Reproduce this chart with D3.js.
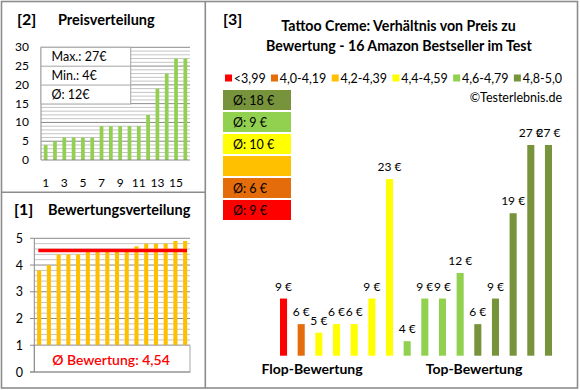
<!DOCTYPE html>
<html><head><meta charset="utf-8">
<script src="https://cdn.jsdelivr.net/npm/d3@7"></script>
<style>
body{margin:0;background:#fff;}
svg{display:block;font-family:Lato,"Open Sans",sans-serif;}
</style></head>
<body><svg id="c" width="580" height="390"></svg>
<script>
// ---------- data ----------
const productIdx = d3.range(1, 17);
const prices = [4,5,6,6,6,6,9,9,9,9,9,12,19,23,27,27];
const priceTickLabels = [0,5,10,15,20,25,30];
const priceXLabels = [1,3,5,7,9,11,13,15];
const priceStats = ["Max.: 27€","Min.: 4€","Ø: 12€"];

const ratings = [3.8,4.0,4.4,4.4,4.4,4.5,4.5,4.6,4.6,4.6,4.7,4.8,4.8,4.8,4.9,4.9];
const ratingTickLabels = [0,1,2,3,4,5];
const ratingAvg = 4.54;
const ratingAvgLabel = "Ø Bewertung: 4,54";

const sortedPrices = [9,6,5,6,6,9,23,4,9,9,12,6,9,19,27,27];
const sortedClass  = [0,1,3,3,3,3,3,4,4,4,4,5,5,5,5,5];
const classLabels = ["<3,99","4,0-4,19","4,2-4,39","4,4-4,59","4,6-4,79","4,8-5,0"];
const classColors = ["#FF0000","#E46C0A","#FFC000","#FFFF00","#92D050","#77933C"];
const classAvgLabels = ["Ø: 9 €","Ø: 6 €","","Ø: 10 €","Ø: 9 €","Ø: 18 €"];

const svg = d3.select("#c");
const GRID_MINOR = "#c4c4c4", GRID_MAJOR = "#8a8a8a", FRAME = "#8c8c8c";

// ---------- frame ----------
svg.append("rect").attr("x",1.5).attr("y",1.5).attr("width",576).attr("height",386.5)
  .attr("fill","none").attr("stroke",FRAME).attr("stroke-width",1.6);
svg.append("line").attr("x1",205.3).attr("x2",205.3).attr("y1",1.5).attr("y2",388)
  .attr("stroke",FRAME).attr("stroke-width",1.6);
svg.append("line").attr("x1",1.5).attr("x2",205.3).attr("y1",192.3).attr("y2",192.3)
  .attr("stroke",FRAME).attr("stroke-width",1.6);

// ---------- panel [2] Preisverteilung ----------
const p2 = svg.append("g");
p2.append("text").attr("x",17).attr("y",25).attr("font-size",16).attr("font-weight","bold").text("[2]");
p2.append("text").attr("x",58).attr("y",25).attr("font-size",14.5).attr("font-weight","bold").text("Preisverteilung");

const x2 = d3.scaleBand().domain(productIdx).range([41,190]).paddingInner(0.6).paddingOuter(0.3);
const y2 = d3.scaleLinear().domain([0,30]).range([160,47.3]);

p2.selectAll("line.g").data(d3.range(1,31)).join("line")
  .attr("x1",41).attr("x2",190).attr("y1",d=>y2(d)).attr("y2",d=>y2(d))
  .attr("stroke",d=>d%5===0?GRID_MAJOR:GRID_MINOR).attr("stroke-width",1);

p2.selectAll("rect.b").data(prices).join("rect")
  .attr("x",(d,i)=>x2(productIdx[i])).attr("width",x2.bandwidth())
  .attr("y",d=>y2(d)).attr("height",d=>y2(0)-y2(d)).attr("fill","#92D050");

p2.append("line").attr("x1",41).attr("x2",190).attr("y1",y2(0)).attr("y2",y2(0)).attr("stroke",GRID_MAJOR);
p2.append("line").attr("x1",41).attr("x2",41).attr("y1",y2(0)).attr("y2",y2(30)).attr("stroke",GRID_MAJOR);

p2.selectAll("text.yl").data(priceTickLabels).join("text")
  .attr("x",29).attr("y",d=>y2(d)+4).attr("text-anchor","end").attr("font-size",12).text(d=>d);
p2.selectAll("text.xl").data(priceXLabels).join("text")
  .attr("x",d=>x2(d)+x2.bandwidth()/2).attr("y",187).attr("text-anchor","middle").attr("font-size",12).text(d=>d);

// stats box
const statTop = y2(30);
const statG = p2.append("g");
statG.append("rect").attr("x",41).attr("y",statTop).attr("width",89.7).attr("height",56.7)
  .attr("fill","#fff").attr("stroke","#a6a6a6");
statG.selectAll("line").data([1,2]).join("line")
  .attr("x1",41).attr("x2",130.7).attr("y1",d=>statTop+d*56.7/3).attr("y2",d=>statTop+d*56.7/3)
  .attr("stroke","#a6a6a6");
statG.selectAll("text").data(priceStats).join("text")
  .attr("x",51.5).attr("y",(d,i)=>statTop+i*56.7/3+14).attr("font-size",12.5).text(d=>d);

// ---------- panel [1] Bewertungsverteilung ----------
const p1 = svg.append("g");
p1.append("text").attr("x",14).attr("y",215).attr("font-size",16).attr("font-weight","bold").text("[1]");
p1.append("text").attr("x",48).attr("y",215).attr("font-size",14.5).attr("font-weight","bold").text("Bewertungsverteilung");

const x1 = d3.scaleBand().domain(productIdx).range([34.3,190]).paddingInner(0.58).paddingOuter(0.29);
const y1 = d3.scaleLinear().domain([0,5]).range([372,238.3]);

p1.selectAll("line.g").data(d3.range(1,26).map(d=>d/5)).join("line")
  .attr("x1",34.3).attr("x2",190).attr("y1",d=>y1(d)).attr("y2",d=>y1(d))
  .attr("stroke",d=>Math.abs(d-Math.round(d))<1e-6?GRID_MAJOR:GRID_MINOR).attr("stroke-width",1);

p1.selectAll("rect.b").data(ratings).join("rect")
  .attr("x",(d,i)=>x1(productIdx[i])).attr("width",x1.bandwidth())
  .attr("y",d=>y1(d)).attr("height",d=>y1(0)-y1(d)).attr("fill","#FFC000");

p1.append("rect").attr("x",34.3).attr("y",y1(1)).attr("width",155.7).attr("height",y1(0)-y1(1))
  .attr("fill","#fff").attr("stroke","#a6a6a6");
p1.append("text").attr("x",111).attr("y",365).attr("text-anchor","middle").attr("font-size",14)
  .attr("font-weight",600).attr("fill","#FF0000").text(ratingAvgLabel);

p1.append("line").attr("x1",34.3).attr("x2",34.3).attr("y1",y1(0)).attr("y2",y1(5)).attr("stroke",GRID_MAJOR);
p1.append("line").attr("x1",30).attr("x2",190).attr("y1",y1(0)).attr("y2",y1(0)).attr("stroke",GRID_MAJOR);
p1.selectAll("line.t").data(ratingTickLabels).join("line")
  .attr("x1",30).attr("x2",34.3).attr("y1",d=>y1(d)).attr("y2",d=>y1(d)).attr("stroke",GRID_MAJOR);
p1.selectAll("text.yl").data(ratingTickLabels).join("text")
  .attr("x",23).attr("y",d=>y1(d)+4.5).attr("text-anchor","end").attr("font-size",12.5).text(d=>d);

p1.append("line").attr("x1",38.3).attr("x2",187).attr("y1",y1(ratingAvg)).attr("y2",y1(ratingAvg))
  .attr("stroke","#FF0000").attr("stroke-width",3.5);

// ---------- panel [3] ----------
const p3 = svg.append("g");
p3.append("text").attr("x",223).attr("y",25).attr("font-size",16).attr("font-weight","bold").text("[3]");
p3.append("text").attr("x",398.5).attr("y",31).attr("text-anchor","middle").attr("font-size",14.2)
  .attr("font-weight","bold").text("Tattoo Creme: Verhältnis von Preis zu");
p3.append("text").attr("x",399).attr("y",51).attr("text-anchor","middle").attr("font-size",14.2)
  .attr("font-weight","bold").text("Bewertung - 16 Amazon Bestseller im Test");

const leg = p3.append("g");
const legTexts = leg.selectAll("text").data(classLabels).join("text")
  .attr("y",82.5).attr("font-size",12.5).text(d=>d);
const widths = legTexts.nodes().map(n=>n.getComputedTextLength());
const sq = 7, sqGap = 1.8;
const total = d3.sum(widths) + classLabels.length*(sq+sqGap);
const gap = (562-225-total)/(classLabels.length-1);
let cx = 225;
classLabels.forEach((c,i)=>{
  leg.append("rect").attr("x",cx).attr("y",74.5).attr("width",sq).attr("height",sq).attr("fill",classColors[i]);
  legTexts.filter((d,j)=>j===i).attr("x",cx+sq+sqGap);
  cx += sq+sqGap+widths[i]+gap;
});

p3.append("text").attr("x",562).attr("y",102).attr("text-anchor","end").attr("font-size",12.5).text("©Testerlebnis.de");

const boxOrder = d3.range(classLabels.length).reverse();
const boxes = p3.selectAll("g.box").data(boxOrder).join("g")
  .attr("transform",(d,i)=>`translate(223,${90+i*22})`);
boxes.append("rect").attr("width",68).attr("height",20).attr("fill",d=>classColors[d]);
boxes.append("text").attr("x",10).attr("y",14.5).attr("font-size",12.5).text(d=>classAvgLabels[d]);

const x3 = d3.scaleBand().domain(d3.range(sortedPrices.length)).range([274.7,557.3]).paddingInner(0.6).paddingOuter(0.3);
const y3 = d3.scaleLinear().domain([2.3,27]).range([355.7,145]);

p3.selectAll("rect.b").data(sortedPrices).join("rect")
  .attr("x",(d,i)=>x3(i)).attr("width",x3.bandwidth())
  .attr("y",d=>y3(d)).attr("height",d=>y3(2.3)-y3(d)).attr("fill",(d,i)=>classColors[sortedClass[i]]);

p3.selectAll("text.v").data(sortedPrices).join("text")
  .attr("x",(d,i)=>x3(i)+x3.bandwidth()/2).attr("y",d=>y3(d)-8)
  .attr("text-anchor","middle").attr("font-size",12).text(d=>d+" €");

p3.append("text").attr("x",312).attr("y",374).attr("text-anchor","middle").attr("font-size",14)
  .attr("font-weight","bold").text("Flop-Bewertung");
p3.append("text").attr("x",474).attr("y",374).attr("text-anchor","middle").attr("font-size",14)
  .attr("font-weight","bold").text("Top-Bewertung");
</script></body></html>
